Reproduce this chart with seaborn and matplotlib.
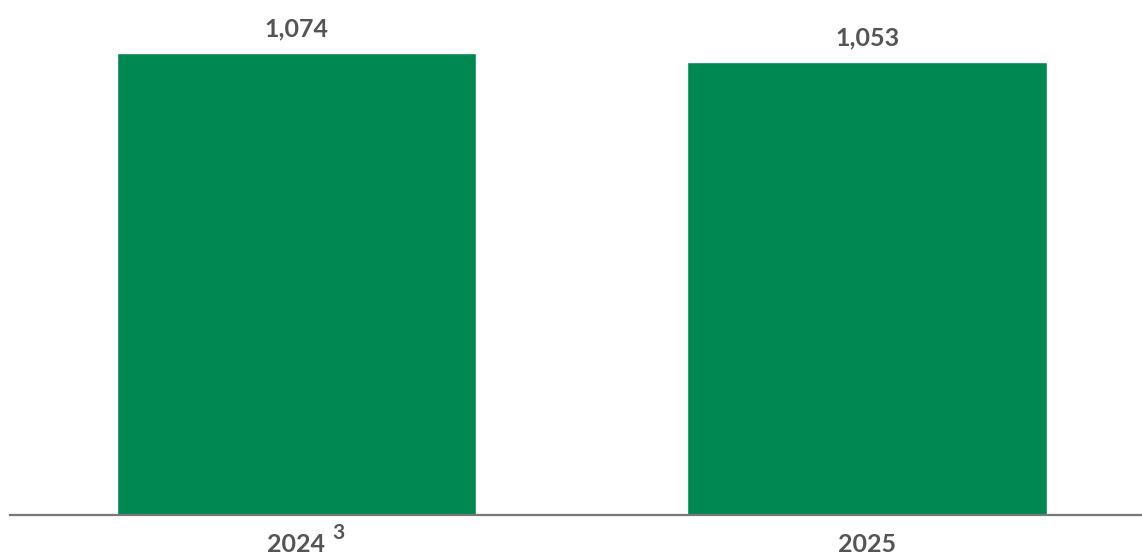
import matplotlib
matplotlib.use("Agg")
import matplotlib.pyplot as plt
import seaborn as sns

# data
years = ["2024", "2025"]
values = [1074, 1053]
footnotes = ["3", ""]

sns.set_style("white")
plt.rcParams['font.family'] = ['Lato', 'DejaVu Sans']

fig = plt.figure(figsize=(11.42, 5.56), dpi=100)
ax = fig.add_axes([10 / 1142, 41 / 556, 1 - 10 / 1142, 515 / 556])

sns.barplot(x=years, y=values, color="#008853", saturation=1, width=0.63, ax=ax)

# value labels above bars
ax.bar_label(ax.containers[0], labels=[f"{v:,}" for v in values], padding=9,
             fontsize=18, fontweight="bold", color="#555555")

ax.set_xlim(-0.502, 1.482)
ax.set_ylim(0, 1196)
ax.set_yticks([])
ax.set_xlabel(""); ax.set_ylabel("")
ax.tick_params(axis="x", length=0, pad=13, labelsize=18, labelcolor="#555555")
for lbl in ax.get_xticklabels():
    lbl.set_fontweight("bold")

# footnote superscripts next to the year labels
for i, f in enumerate(footnotes):
    if f:
        ax.annotate(f, xy=(i, 0), xytext=(26, -6), textcoords="offset points",
                    fontsize=15, fontweight="bold", color="#555555",
                    ha="left", va="top", annotation_clip=False)

for s in ["top", "right", "left"]:
    ax.spines[s].set_visible(False)
ax.spines["bottom"].set_color("#777777")
ax.spines["bottom"].set_linewidth(1.6)

fig.savefig("out.png", dpi=100)
